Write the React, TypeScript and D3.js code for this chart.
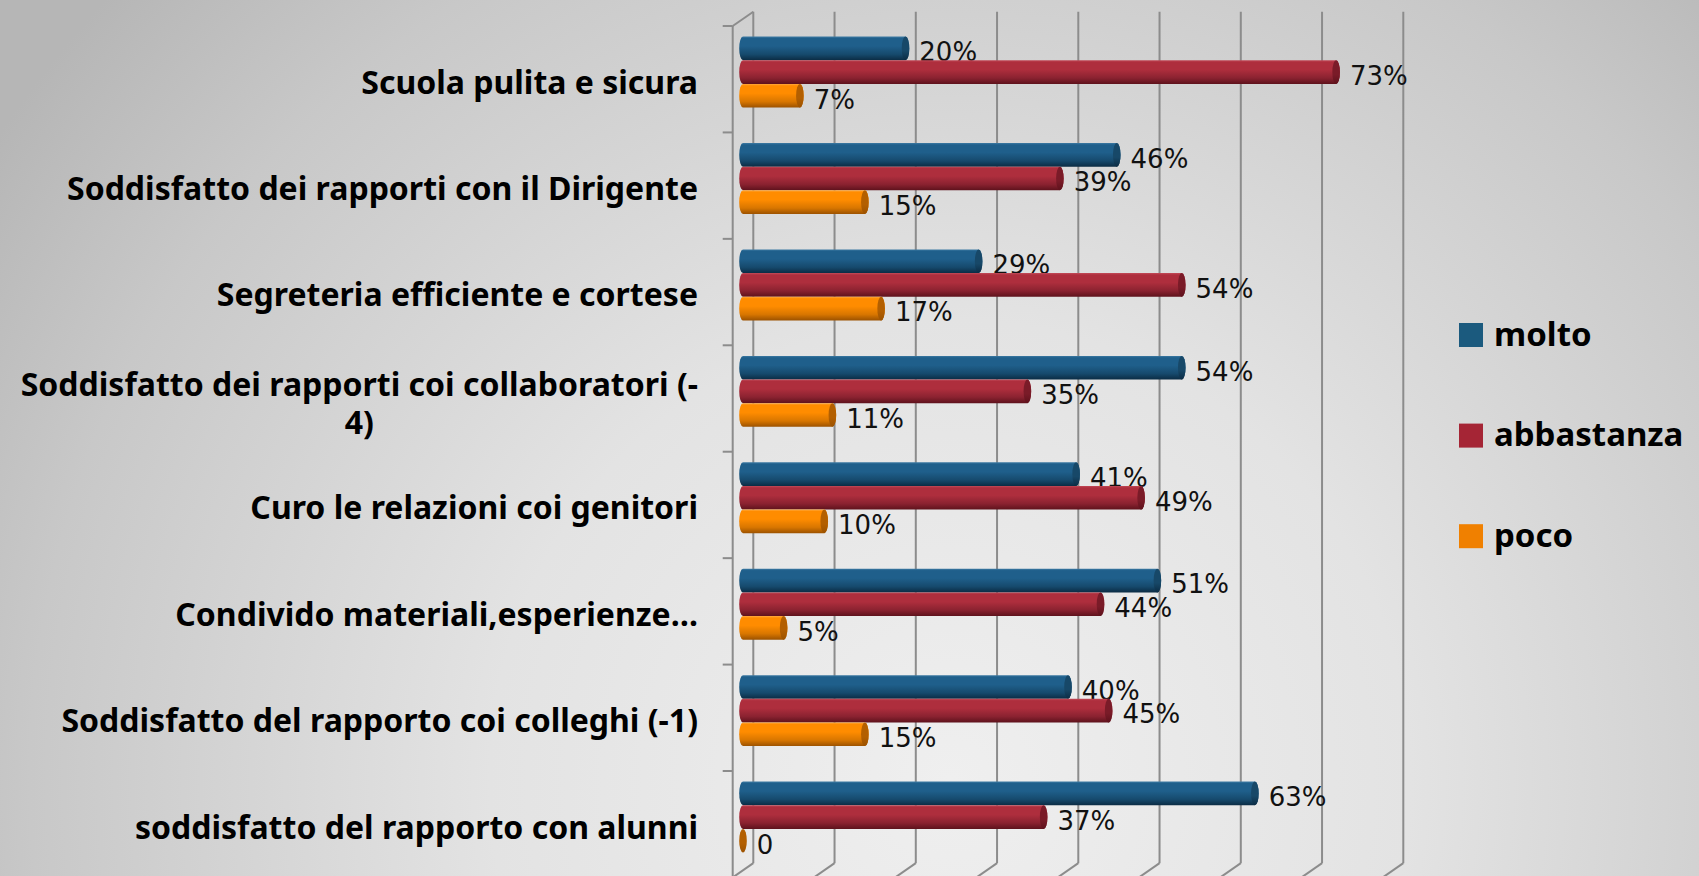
import React, { useEffect, useMemo } from 'react';
import * as d3 from 'd3';

// ---------- data ----------
const categories = [
  'Scuola pulita e sicura',
  'Soddisfatto dei rapporti con il Dirigente',
  'Segreteria efficiente e cortese',
  'Soddisfatto dei rapporti coi collaboratori (-4)',
  'Curo le relazioni coi genitori',
  'Condivido materiali,esperienze…',
  'Soddisfatto del rapporto coi colleghi (-1)',
  'soddisfatto del rapporto con alunni',
];
const seriesNames = ['molto', 'abbastanza', 'poco'];
const molto = [20, 46, 29, 54, 41, 51, 40, 63];
const abbastanza = [73, 39, 54, 35, 49, 44, 45, 37];
const poco = [7, 15, 17, 11, 10, 5, 15, 0];
const xTicks = [0, 10, 20, 30, 40, 50, 60, 70, 80];

const seriesValues = [molto, abbastanza, poco];

// ---------- styles ----------
const W = 1699;
const H = 876;
const frontX0 = 732.7;
const frontTop = 26;
const depthDx = 20.6;
const depthDy = -14.3;
const bandStep = 106.43;
const plotH = bandStep * categories.length;
const labelRight = 698;
const catFontSize = 32;
const catFont = `bold ${catFontSize}px "Noto Sans", sans-serif`;
const legendFontSize = 33;
const valFontSize = 26;

const seriesStyle = [
  { top: '#3d7aa3', mid: '#1f5f8b', low: '#164a6d', dark: '#0b2c44', cap: '#174868', legend: '#1b5a7e' },
  { top: '#c24a58', mid: '#ae2e3d', low: '#8a2230', dark: '#5e121c', cap: '#7a1b28', legend: '#a52535' },
  { top: '#ffaa40', mid: '#ff8c00', low: '#d87600', dark: '#9c5200', cap: '#b35f00', legend: '#f08000' },
];

let ctx: CanvasRenderingContext2D | null = null;
function measure(text: string, font: string) {
  if (!ctx) ctx = document.createElement('canvas').getContext('2d');
  if (!ctx) return text.length * 15;
  ctx.font = font;
  return ctx.measureText(text).width;
}

function wrap(text: string, maxW: number, font: string) {
  const tokens = text.split(/(?<=[ \-])/);
  const lines: string[] = [];
  let line = '';
  for (const t of tokens) {
    const cand = line + t;
    if (line && measure(cand.trimEnd(), font) > maxW) {
      lines.push(line.trimEnd());
      line = t;
    } else line = cand;
  }
  if (line) lines.push(line.trimEnd());
  return lines;
}

export default function App() {
  useEffect(() => {
    document.body.style.margin = '0';
    document.body.style.overflow = 'hidden';
  }, []);

  const x = d3.scaleLinear().domain([0, 80]).range([0, 650]);
  const y = d3.scaleBand<string>().domain(categories).range([0, plotH]).padding(0);
  const ySub = d3
    .scaleBand<string>()
    .domain(seriesNames)
    .range([0, bandStep])
    .paddingInner(0)
    .paddingOuter(0.75);

  const backX0 = frontX0 + depthDx;
  const backTop = frontTop + depthDy;
  const backBottom = frontTop + plotH + depthDy;
  const frontBottom = frontTop + plotH;
  const barX0 = frontX0 + depthDx / 2;
  const barY0 = frontTop + depthDy / 2;
  const rx = 3.8;

  const labelLines = useMemo(() => categories.map((c) => wrap(c, 680, catFont)), []);

  return (
    <svg
      width={W}
      height={H}
      style={{ position: 'absolute', left: 0, top: 0, display: 'block' }}
      xmlns="http://www.w3.org/2000/svg"
    >
      <defs>
        <radialGradient id="bg" gradientUnits="userSpaceOnUse" cx={950} cy={780} r={1150}>
          <stop offset="0" stopColor="#efefef" />
          <stop offset="0.4" stopColor="#e3e3e3" />
          <stop offset="0.8" stopColor="#c8c8c8" />
          <stop offset="1" stopColor="#b6b6b6" />
        </radialGradient>
        {seriesStyle.map((s, i) => (
          <linearGradient key={i} id={`bar${i}`} x1="0" y1="0" x2="0" y2="1">
            <stop offset="0" stopColor={s.top} />
            <stop offset="0.08" stopColor={s.mid} />
            <stop offset="0.4" stopColor={s.mid} />
            <stop offset="0.75" stopColor={s.low} />
            <stop offset="1" stopColor={s.dark} />
          </linearGradient>
        ))}
        {seriesStyle.map((s, i) => (
          <linearGradient key={i} id={`cap${i}`} x1="0" y1="0" x2="0" y2="1">
            <stop offset="0" stopColor={s.cap} />
            <stop offset="0.6" stopColor={s.cap} />
            <stop offset="1" stopColor={s.dark} />
          </linearGradient>
        ))}
      </defs>
      <rect x={0} y={0} width={W} height={H} fill="url(#bg)" />

      {/* back wall gridlines + floor */}
      <g stroke="#8c8c8c" strokeWidth={2} fill="none">
        {xTicks.map((t) => (
          <g key={t}>
            <line x1={backX0 + x(t)} x2={backX0 + x(t)} y1={backTop} y2={backBottom} />
            <line x1={backX0 + x(t)} y1={backBottom} x2={frontX0 + x(t)} y2={frontBottom} />
          </g>
        ))}
        <line x1={frontX0} x2={frontX0} y1={frontTop} y2={frontBottom} />
        <line x1={frontX0} y1={frontTop} x2={backX0} y2={backTop} />
        <line x1={frontX0} x2={frontX0 + x(80)} y1={frontBottom} y2={frontBottom} />
        {categories.map((c) => (
          <line key={c} x1={frontX0 - 10} x2={frontX0} y1={frontTop + (y(c) ?? 0)} y2={frontTop + (y(c) ?? 0)} />
        ))}
        <line x1={frontX0 - 10} x2={frontX0} y1={frontBottom} y2={frontBottom} />
      </g>

      {/* bars */}
      {categories.map((c, ci) => (
        <g key={c}>
          {seriesNames.map((s, si) => {
            const v = seriesValues[si][ci];
            const top = barY0 + (y(c) ?? 0) + (ySub(s) ?? 0);
            const h = ySub.bandwidth();
            const bottom = top + h;
            const ry = h / 2;
            const xs = barX0;
            const xe = barX0 + x(v);
            const body = `M${xs},${top} L${xe},${top} A${rx},${ry} 0 0 1 ${xe},${bottom} L${xs},${bottom} A${rx},${ry} 0 0 1 ${xs},${top} Z`;
            return (
              <g key={s}>
                {v > 0 && <path d={body} fill={`url(#bar${si})`} />}
                <ellipse cx={xe} cy={top + ry} rx={rx} ry={ry} fill={`url(#cap${si})`} />
                <text
                  x={xe + rx + 10}
                  y={top + ry + 12.8}
                  fontFamily='"DejaVu Sans", Verdana, sans-serif'
                  fontSize={valFontSize}
                  fill="#111"
                >
                  {v === 0 ? '0' : `${v}%`}
                </text>
              </g>
            );
          })}
        </g>
      ))}

      {/* category labels */}
      {categories.map((c, ci) => {
        const lines = labelLines[ci];
        const blockW = Math.max(...lines.map((l) => measure(l, catFont)));
        const center = frontTop + (y(c) ?? 0) + bandStep / 2 + (lines.length > 1 ? 5 : 3);
        const lh = 38;
        const capH = 0.714 * catFontSize;
        const multi = lines.length > 1;
        return (
          <text
            key={c}
            fontFamily='"Noto Sans", sans-serif'
            fontWeight="bold"
            fontSize={catFontSize}
            fill="#000"
            textAnchor={multi ? 'middle' : 'end'}
          >
            {lines.map((l, li) => (
              <tspan
                key={li}
                x={multi ? labelRight - blockW / 2 : labelRight}
                y={center - ((lines.length - 1) * lh) / 2 + li * lh + capH / 2}
              >
                {l}
              </tspan>
            ))}
          </text>
        );
      })}

      {/* legend */}
      {seriesNames.map((s, i) => {
        const cy = 335 + i * 100.6;
        return (
          <g key={s}>
            <rect x={1459} y={cy - 12} width={24} height={24} fill={seriesStyle[i].legend} />
            <text
              x={1494}
              y={cy + (0.714 * legendFontSize) / 2 - 1}
              fontFamily='"Noto Sans", sans-serif'
              fontWeight="bold"
              fontSize={legendFontSize}
              fill="#000"
            >
              {s}
            </text>
          </g>
        );
      })}
    </svg>
  );
}
